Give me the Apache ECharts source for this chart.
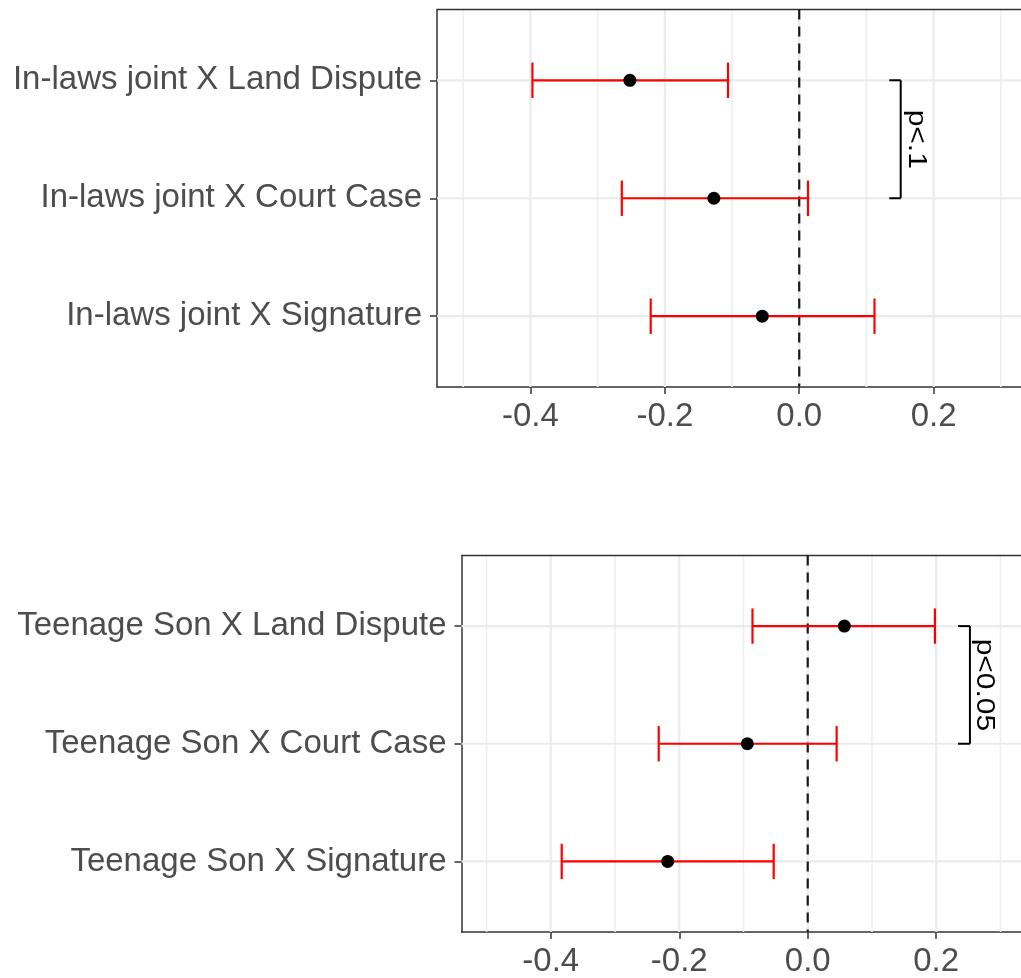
<!DOCTYPE html>
<html>
<head>
<meta charset="utf-8">
<script src="https://cdn.jsdelivr.net/npm/echarts@6/dist/echarts.min.js"></script>
<style>
html,body{margin:0;padding:0;background:#fff;}
#chart{width:1021px;height:978px;}
</style>
</head>
<body>
<div id="chart"></div>
<script>
// ---- data (y position 1 = bottom row, 3 = top row) ----
const catsTop = ['In-laws joint X Signature', 'In-laws joint X Court Case', 'In-laws joint X Land Dispute'];
const estTop  = [-0.055, -0.127, -0.252];
const loTop   = [-0.221, -0.264, -0.397];
const hiTop   = [0.112, 0.013, -0.106];

const catsBot = ['Teenage Son X Signature', 'Teenage Son X Court Case', 'Teenage Son X Land Dispute'];
const estBot  = [-0.218, -0.094, 0.057];
const loBot   = [-0.383, -0.232, -0.086];
const hiBot   = [-0.053, 0.045, 0.198];

const xTickLabels = [-0.4, -0.2, 0.0, 0.2, 0.4];
const xMajorGrid  = [-0.4, -0.2, 0.0, 0.2, 0.4];
const xMinorGrid  = [-0.5, -0.3, -0.1, 0.1, 0.3];
const yRows       = [1, 2, 3];

// significance brackets: [lineX, tickX, fromRow, toRow, textX]
const bracketTop = [0.151, 0.134, 3, 2, 0.174];
const bracketTopText = 'p<.1';
const bracketBot = [0.2525, 0.234, 3, 2, 0.274];
const bracketBotText = 'p<0.05';

// visible x range (the panels are cut off at the right edge of the picture)
const X_MIN = -0.539;
const X_MAX_TOP = 0.33;
const X_MAX_BOT = 0.332;

// ---- chart ----
const FONT = "'Liberation Sans', Arial, Helvetica, sans-serif";
const chart = echarts.init(document.getElementById('chart'), null, {renderer: 'canvas'});

function xAxisCfg(gi, max) {
  return {
    type: 'value', gridIndex: gi, min: X_MIN, max: max,
    axisLine: {show: true, onZero: false, lineStyle: {color: '#333', width: 1.5}},
    splitLine: {show: false},
    axisTick: {show: true, length: 7, customValues: xTickLabels, lineStyle: {color: '#333', width: 1.5}},
    axisLabel: {show: true, customValues: xTickLabels, margin: 13, fontSize: 33, fontFamily: FONT, color: '#4D4D4D',
      formatter: v => v.toFixed(1)}
  };
}
function yAxisCfg(gi, cats) {
  return {
    type: 'value', gridIndex: gi, min: 0.4, max: 3.6,
    axisLine: {show: true, onZero: false, lineStyle: {color: '#333', width: 1.5}},
    splitLine: {show: false},
    axisTick: {show: true, length: 7, customValues: yRows, lineStyle: {color: '#333', width: 1.5}},
    axisLabel: {show: true, customValues: yRows, margin: 15, fontSize: 33, fontFamily: FONT, color: '#4D4D4D',
      formatter: v => cats[Math.round(v) - 1]}
  };
}

function gridSeries(gi) {
  const data = [];
  xMinorGrid.forEach(v => data.push([0, v]));
  xMajorGrid.forEach(v => data.push([1, v]));
  yRows.forEach(v => data.push([2, v]));
  data.push([3, 3.6]); // top panel border
  return {
    type: 'custom', xAxisIndex: gi, yAxisIndex: gi, z: 1, silent: true, clip: false,
    data: data,
    renderItem(params, api) {
      const kind = api.value(0), v = api.value(1);
      const cs = params.coordSys;
      if (kind === 2 || kind === 3) {
        const y = api.coord([0, v])[1];
        return {type: 'line', shape: {x1: cs.x, y1: y, x2: cs.x + cs.width, y2: y},
          style: kind === 3 ? {stroke: '#333', lineWidth: 1.5} : {stroke: '#EBEBEB', lineWidth: 2.2}, z2: kind === 3 ? 10 : 0};
      }
      const x = api.coord([v, 2])[0];
      return {type: 'line', shape: {x1: x, y1: cs.y, x2: x, y2: cs.y + cs.height},
        style: {stroke: kind === 1 ? '#EBEBEB' : '#EEEEEE', lineWidth: kind === 1 ? 2.2 : 1.6}};
    }
  };
}

function zeroLine(gi) {
  return {
    type: 'custom', xAxisIndex: gi, yAxisIndex: gi, z: 2, silent: true,
    data: [[0]],
    renderItem(params, api) {
      const cs = params.coordSys;
      const x = api.coord([api.value(0), 2])[0];
      return {type: 'line', shape: {x1: x, y1: cs.y, x2: x, y2: cs.y + cs.height},
        style: {stroke: '#1a1a1a', lineWidth: 2.2, lineDash: [10, 7]}};
    }
  };
}

function errSeries(gi, lo, hi) {
  return {
    type: 'custom', xAxisIndex: gi, yAxisIndex: gi, z: 3, silent: true,
    data: lo.map((l, i) => [yRows[i], l, hi[i]]),
    encode: {y: 0, x: [1, 2]},
    renderItem(params, api) {
      const y = api.value(0);
      const p1 = api.coord([api.value(1), y]);
      const p2 = api.coord([api.value(2), y]);
      const h = api.size([0, 0.3])[1] / 2;
      const st = {stroke: '#FF0000', lineWidth: 2.2};
      return {type: 'group', children: [
        {type: 'line', shape: {x1: p1[0], y1: p1[1], x2: p2[0], y2: p2[1]}, style: st},
        {type: 'line', shape: {x1: p1[0], y1: p1[1] - h, x2: p1[0], y2: p1[1] + h}, style: st},
        {type: 'line', shape: {x1: p2[0], y1: p2[1] - h, x2: p2[0], y2: p2[1] + h}, style: st}
      ]};
    }
  };
}

function pointSeries(gi, est) {
  return {
    type: 'scatter', xAxisIndex: gi, yAxisIndex: gi, z: 4, silent: true,
    symbol: 'circle', symbolSize: 13,
    itemStyle: {color: '#000', opacity: 1},
    data: est.map((e, i) => [e, yRows[i]])
  };
}

function bracketSeries(gi, b, txt) {
  return {
    type: 'custom', xAxisIndex: gi, yAxisIndex: gi, z: 5, silent: true, clip: false,
    data: [b],
    renderItem(params, api) {
      const lx = api.value(0), tx = api.value(1), r1 = api.value(2), r2 = api.value(3), txx = api.value(4);
      const a = api.coord([lx, r1]), bb = api.coord([lx, r2]);
      const ta = api.coord([tx, r1]), tb = api.coord([tx, r2]);
      const tc = api.coord([txx, (r1 + r2) / 2]);
      const st = {stroke: '#000', lineWidth: 2};
      return {type: 'group', children: [
        {type: 'line', shape: {x1: a[0], y1: a[1], x2: bb[0], y2: bb[1]}, style: st},
        {type: 'line', shape: {x1: ta[0], y1: ta[1], x2: a[0], y2: a[1]}, style: st},
        {type: 'line', shape: {x1: tb[0], y1: tb[1], x2: bb[0], y2: bb[1]}, style: st},
        {type: 'text', x: tc[0], y: tc[1], rotation: -Math.PI / 2, scaleX: 1.2, scaleY: 1,
          style: {text: txt, fontSize: 25, fontFamily: FONT, fill: '#000', align: 'center', verticalAlign: 'middle'}}
      ]};
    }
  };
}

chart.setOption({
  animation: false,
  backgroundColor: '#fff',
  grid: [
    {left: 437, top: 9.5, right: 0, height: 377.5, show: false, containLabel: false},
    {left: 461.5, top: 555.5, right: 0, height: 377.5, show: false, containLabel: false}
  ],
  xAxis: [xAxisCfg(0, X_MAX_TOP), xAxisCfg(1, X_MAX_BOT)],
  yAxis: [yAxisCfg(0, catsTop), yAxisCfg(1, catsBot)],
  series: [
    gridSeries(0), zeroLine(0), errSeries(0, loTop, hiTop), pointSeries(0, estTop), bracketSeries(0, bracketTop, bracketTopText),
    gridSeries(1), zeroLine(1), errSeries(1, loBot, hiBot), pointSeries(1, estBot), bracketSeries(1, bracketBot, bracketBotText)
  ]
});
</script>
</body>
</html>
